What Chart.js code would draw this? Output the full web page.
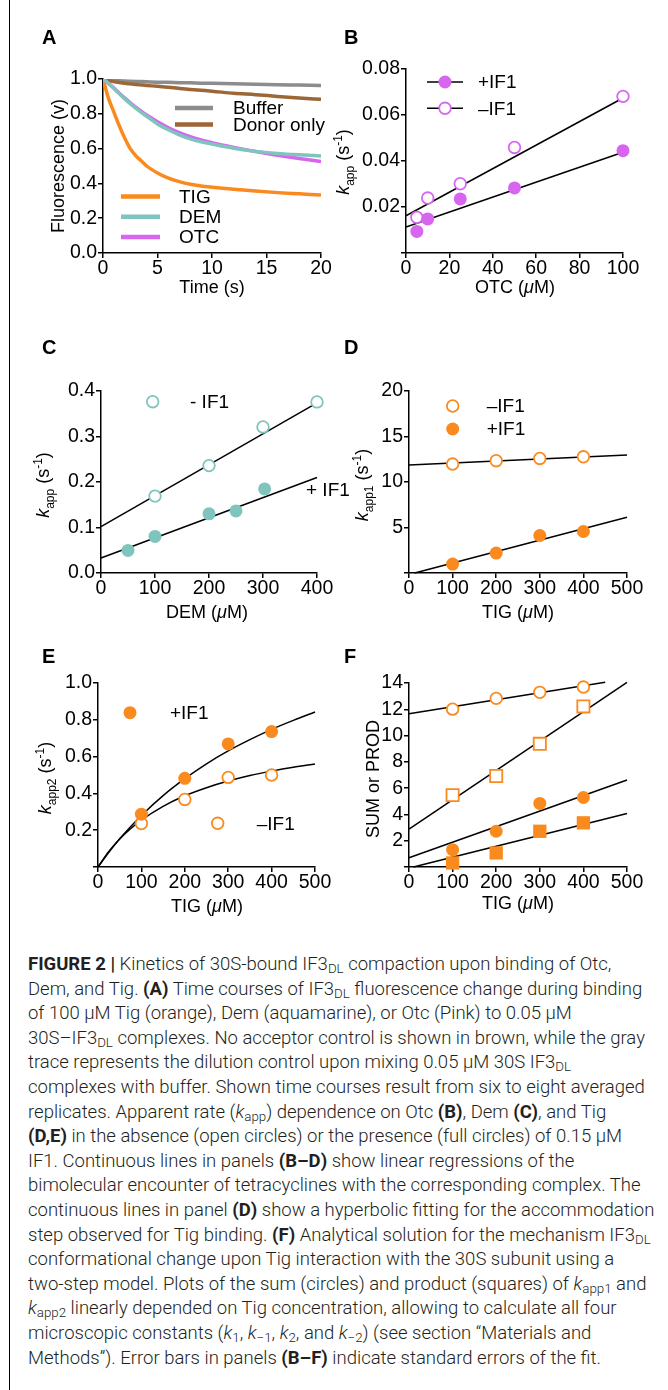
<!DOCTYPE html>
<html>
<head>
<meta charset="utf-8">
<script src="https://cdn.jsdelivr.net/npm/chart.js@4.4.1/dist/chart.umd.min.js"></script>
<style>
  body { margin: 0; background: #fff; width: 668px; height: 1390px; position: relative; overflow: hidden; }
  .pane { position: absolute; }
  #edge { position: absolute; left: 9px; top: 0; width: 1px; height: 1390px; background: #000; }
  #caption { position: absolute; left: 28px; top: 952px; font-family: Roboto, 'Liberation Sans', sans-serif; font-weight: 300;
             font-size: 18.5px; line-height: 24.6px; color: #231f20; white-space: nowrap; }
  #caption b { font-weight: 700; }
  #caption sub { font-size: 0.72em; vertical-align: -0.25em; line-height: 0; }
</style>
</head>
<body>
<div id="edge"></div>
<div class="pane" id="pA"><canvas id="cA"></canvas></div>
<div class="pane" id="pB"><canvas id="cB"></canvas></div>
<div class="pane" id="pC"><canvas id="cC"></canvas></div>
<div class="pane" id="pD"><canvas id="cD"></canvas></div>
<div class="pane" id="pE"><canvas id="cE"></canvas></div>
<div class="pane" id="pF"><canvas id="cF"></canvas></div>

<div id="caption">
<div><b>FIGURE 2 |</b> Kinetics of 30S-bound IF3<sub>DL</sub> compaction upon binding of Otc,</div>
<div>Dem, and Tig. <b>(A)</b> Time courses of IF3<sub>DL</sub> fluorescence change during binding</div>
<div>of 100 μM Tig (orange), Dem (aquamarine), or Otc (Pink) to 0.05 μM</div>
<div>30S–IF3<sub>DL</sub> complexes. No acceptor control is shown in brown, while the gray</div>
<div>trace represents the dilution control upon mixing 0.05 μM 30S IF3<sub>DL</sub></div>
<div>complexes with buffer. Shown time courses result from six to eight averaged</div>
<div>replicates. Apparent rate (<i>k</i><sub>app</sub>) dependence on Otc <b>(B)</b>, Dem <b>(C)</b>, and Tig</div>
<div><b>(D,E)</b> in the absence (open circles) or the presence (full circles) of 0.15 μM</div>
<div>IF1. Continuous lines in panels <b>(B–D)</b> show linear regressions of the</div>
<div>bimolecular encounter of tetracyclines with the corresponding complex. The</div>
<div>continuous lines in panel <b>(D)</b> show a hyperbolic fitting for the accommodation</div>
<div>step observed for Tig binding. <b>(F)</b> Analytical solution for the mechanism IF3<sub>DL</sub></div>
<div>conformational change upon Tig interaction with the 30S subunit using a</div>
<div>two-step model. Plots of the sum (circles) and product (squares) of <i>k</i><sub>app1</sub> and</div>
<div><i>k</i><sub>app2</sub> linearly depended on Tig concentration, allowing to calculate all four</div>
<div>microscopic constants (<i>k</i><sub>1</sub>, <i>k</i><sub>−1</sub>, <i>k</i><sub>2</sub>, and <i>k</i><sub>−2</sub>) (see section “Materials and</div>
<div>Methods”). Error bars in panels <b>(B–F)</b> indicate standard errors of the fit.</div>
</div>

<script>
// panel A - fluorescence time courses
const timeA      = [0, 0.5, 1, 1.5, 2, 2.5, 3, 3.5, 4, 5, 6, 7, 8, 9, 10, 12, 14, 16, 18, 20];
const fluoTig    = [1.00, 0.89, 0.81, 0.73, 0.66, 0.60, 0.56, 0.53, 0.50, 0.46, 0.43, 0.41, 0.395, 0.385, 0.378, 0.366, 0.356, 0.347, 0.340, 0.333];
const fluoDem    = [1.00, 0.975, 0.945, 0.915, 0.885, 0.858, 0.832, 0.808, 0.786, 0.742, 0.708, 0.679, 0.656, 0.639, 0.626, 0.602, 0.584, 0.572, 0.564, 0.558];
const fluoOtc    = [1.00, 0.975, 0.948, 0.918, 0.890, 0.863, 0.838, 0.815, 0.793, 0.754, 0.720, 0.692, 0.668, 0.650, 0.634, 0.607, 0.583, 0.562, 0.543, 0.526];
const fluoBuffer = [1.00, 0.995, 0.990, 0.990, 0.988, 0.987, 0.986, 0.985, 0.984, 0.982, 0.981, 0.979, 0.978, 0.976, 0.975, 0.972, 0.970, 0.967, 0.965, 0.963];
const fluoDonor  = [1.00, 0.990, 0.985, 0.980, 0.976, 0.972, 0.969, 0.966, 0.963, 0.958, 0.952, 0.946, 0.940, 0.935, 0.930, 0.918, 0.910, 0.900, 0.891, 0.883];

// panel B - kapp vs OTC
const otcConc        = [5, 10, 25, 50, 100];
const kappOtcPlus    = [0.0094, 0.0148, 0.0235, 0.0283, 0.0445];
const kappOtcMinus   = [0.0155, 0.0239, 0.0301, 0.0459, 0.0681];
const fitOtcX        = [0, 100];
const fitOtcPlus     = [0.0113, 0.0438];
const fitOtcMinus    = [0.0162, 0.0674];

// panel C - kapp vs DEM
const demConcMinus   = [100, 200, 300, 400];
const kappDemMinus   = [0.169, 0.236, 0.321, 0.376];
const demConcPlus    = [50, 100, 200, 250, 303];
const kappDemPlus    = [0.0496, 0.0803, 0.130, 0.1365, 0.1847];
const fitDemX        = [0, 400];
const fitDemMinus    = [0.102, 0.374];
const fitDemPlus     = [0.033, 0.210];

// panel D - kapp1 vs TIG
const tigConc        = [100, 200, 300, 400];
const kapp1Minus     = [11.97, 12.34, 12.59, 12.77];
const kapp1Plus      = [0.985, 2.19, 4.12, 4.56];
const fitK1MinusX    = [0, 500];
const fitK1Minus     = [11.86, 12.96];
const fitK1PlusX     = [13, 500];
const fitK1Plus      = [0, 6.13];

// panel E - kapp2 vs TIG (hyperbolic fits)
const kapp2Plus      = [0.287, 0.482, 0.669, 0.736];
const kapp2Minus     = [0.236, 0.367, 0.487, 0.500];
const fitK2X         = [0, 25, 50, 75, 100, 150, 200, 250, 300, 350, 400, 450, 500];
const fitK2Plus      = [0, 0.080, 0.153, 0.219, 0.280, 0.388, 0.480, 0.561, 0.631, 0.692, 0.748, 0.797, 0.842];
const fitK2Minus     = [0, 0.084, 0.152, 0.208, 0.255, 0.330, 0.387, 0.431, 0.467, 0.497, 0.521, 0.542, 0.560];

// panel F - sum and product of kapp1, kapp2
const sumMinus       = [12.01, 12.83, 13.29, 13.69];
const prodMinus      = [5.47, 6.92, 9.37, 12.22];
const sumPlus        = [1.32, 2.72, 4.84, 5.29];
const prodPlus       = [0.31, 1.07, 2.72, 3.36];
const fitSumMinusX   = [0, 450];
const fitSumMinus    = [11.66, 14.05];
const fitProdMinusX  = [0, 500];
const fitProdMinus   = [2.88, 14.05];
const fitSumPlusX    = [0, 500];
const fitSumPlus     = [0.71, 6.62];
const fitProdPlusX   = [10, 500];
const fitProdPlus    = [0, 4.07];

const FONT = "'Liberation Sans', Arial, sans-serif";
const ORANGE = '#fb8a1e', TEAL = '#7fc4bd', PINK = '#d865f0';
const PAD = { l: 85, t: 60, r: 34, b: 58 };
const TICK_SIZE = 19.5, TITLE_SIZE = 18, LEGEND_SIZE = 19;

const pts = (xs, ys) => xs.map((x, i) => ({ x: x, y: ys[i] }));

function marker(xs, ys, color, open, style) {
  const sq = style === 'rect';
  return {
    data: pts(xs, ys), showLine: false, order: 0, clip: false,
    pointStyle: style || 'circle',
    pointRadius: sq ? (open ? 8.6 : 9.4) : (open ? 5.8 : 6.5),
    pointBackgroundColor: open ? '#fff' : color,
    pointBorderColor: color,
    pointBorderWidth: open ? 1.8 : 0
  };
}

function fit(xs, ys, curved) {
  return {
    data: pts(xs, ys), showLine: true, pointRadius: 0, order: 1, clip: false,
    borderColor: '#000', borderWidth: 1.5,
    cubicInterpolationMode: curved ? 'monotone' : 'default'
  };
}

function trace(ys, color, order) {
  return {
    data: pts(timeA, ys), showLine: true, pointRadius: 0, order: order,
    borderColor: color, borderWidth: 3.5, cubicInterpolationMode: 'monotone'
  };
}

function axis(min, max, step, fmt, isY) {
  return {
    type: 'linear', position: isY ? 'left' : 'bottom', min: min, max: max,
    ticks: { stepSize: step, color: '#000', font: { family: FONT, size: TICK_SIZE }, padding: isY ? 1 : -1,
             maxRotation: 0, autoSkip: false, callback: fmt },
    grid: { display: true, drawOnChartArea: false, drawTicks: true, tickLength: 5, lineWidth: 1.5, color: '#000' },
    border: { display: true, color: '#000', width: 1.5 },
    afterFit: function (s) {
      if (isY) { s.width = PAD.l; s.paddingTop = 0; s.paddingBottom = 0; }
      else { s.height = PAD.b; s.paddingLeft = 0; s.paddingRight = 0; }
    }
  };
}

// text with italic / subscript / superscript pieces, centred on (x, y)
function drawRich(ctx, parts, x, y, size, vertical) {
  const small = Math.round(size * 0.68);
  const norm = parts.map(p => typeof p === 'string' ? [p, ''] : p);
  const fontOf = k => (k === 'i' ? 'italic ' : '') + ((k === 'sub' || k === 'sup') ? small : size) + 'px ' + FONT;
  let w = 0;
  norm.forEach(([t, k]) => { ctx.font = fontOf(k); w += ctx.measureText(t).width; });
  ctx.save();
  ctx.translate(x, y);
  if (vertical) ctx.rotate(-Math.PI / 2);
  ctx.textAlign = 'left';
  ctx.textBaseline = 'alphabetic';
  let cx = -w / 2;
  const base = size * 0.36;
  norm.forEach(([t, k]) => {
    ctx.font = fontOf(k);
    const dy = k === 'sub' ? size * 0.27 : k === 'sup' ? -size * 0.42 : 0;
    ctx.fillText(t, cx, base + dy);
    cx += ctx.measureText(t).width;
  });
  ctx.restore();
}

const extras = {
  id: 'extras',
  afterDraw(chart, args, o) {
    const ctx = chart.ctx, ox = o.origin[0], oy = o.origin[1];
    ctx.save();
    ctx.fillStyle = '#000';
    ctx.font = 'bold 20px ' + FONT;
    ctx.textAlign = 'left';
    ctx.textBaseline = 'middle';
    ctx.fillText(o.letter[0], o.letter[1] - ox, o.letter[2] - oy);
    drawRich(ctx, o.xTitle[0], o.xTitle[1] - ox, o.xTitle[2] - oy, TITLE_SIZE, false);
    drawRich(ctx, o.yTitle[0], o.yTitle[1] - ox, o.yTitle[2] - oy, TITLE_SIZE, true);
    (o.legend || []).forEach(it => {
      const y = it.y - oy;
      if (it.line) {
        ctx.strokeStyle = it.lineColor || '#000';
        ctx.lineWidth = it.lineWidth || 1.5;
        ctx.beginPath();
        ctx.moveTo(it.line[0] - ox, y);
        ctx.lineTo(it.line[1] - ox, y);
        ctx.stroke();
      }
      if (it.dot) {
        const [mx, color, open] = it.dot;
        ctx.beginPath();
        ctx.arc(mx - ox, y, open ? 5.8 : 6.5, 0, Math.PI * 2);
        ctx.fillStyle = open ? '#fff' : color;
        ctx.fill();
        if (open) { ctx.strokeStyle = color; ctx.lineWidth = 1.8; ctx.stroke(); }
      }
      ctx.fillStyle = '#000';
      ctx.font = LEGEND_SIZE + 'px ' + FONT;
      ctx.textBaseline = 'middle';
      ctx.fillText(it.text, it.tx - ox, y + 1);
    });
    ctx.restore();
  }
};

function makePanel(id, area, datasets, xAxis, yAxis, deco) {
  const [x0, y0, x1, y1] = area;
  const left = x0 - PAD.l, top = y0 - PAD.t;
  const w = (x1 - x0) + PAD.l + PAD.r, h = (y1 - y0) + PAD.t + PAD.b;
  const pane = document.getElementById('p' + id);
  pane.style.left = left + 'px';
  pane.style.top = top + 'px';
  const cv = document.getElementById('c' + id);
  cv.width = w; cv.height = h;
  cv.style.width = w + 'px'; cv.style.height = h + 'px';
  deco.origin = [left, top];
  new Chart(cv, {
    type: 'scatter',
    data: { datasets: datasets },
    options: {
      responsive: false, animation: false, devicePixelRatio: 1,
      layout: { padding: { left: 0, top: PAD.t, right: PAD.r, bottom: 0 } },
      scales: { x: xAxis, y: yAxis },
      plugins: { legend: { display: false }, tooltip: { enabled: false }, extras: deco }
    },
    plugins: [extras]
  });
}

const noZero = f => v => (Math.abs(v) < 1e-9 ? '' : f(v));
const MU = ['(', ['μ', 'i'], 'M)'];
const KAPP = sub => [['k', 'i'], [sub, 'sub'], ' (s', ['-1', 'sup'], ')'];

// A
makePanel('A', [103, 79, 321, 253], [
  trace(fluoDem, TEAL, 0),
  trace(fluoOtc, PINK, 1),
  trace(fluoTig, ORANGE, 2),
  trace(fluoDonor, '#9c6636', 3),
  trace(fluoBuffer, '#8c8c8c', 4)
], axis(0, 20, 5, v => v, false), axis(0, 1, 0.2, v => v.toFixed(1), true), {
  letter: ['A', 42, 38],
  xTitle: [['Time (s)'], 212, 287],
  yTitle: [['Fluorescence (v)'], 58, 166],
  legend: [
    { y: 108, line: [175, 213], lineColor: '#8c8c8c', lineWidth: 4.5, text: 'Buffer', tx: 233 },
    { y: 124.5, line: [175, 213], lineColor: '#9c6636', lineWidth: 4.5, text: 'Donor only', tx: 233 },
    { y: 196.5, line: [121, 160], lineColor: ORANGE, lineWidth: 4.5, text: 'TIG', tx: 179 },
    { y: 216.7, line: [121, 160], lineColor: TEAL, lineWidth: 4.5, text: 'DEM', tx: 179 },
    { y: 237, line: [121, 160], lineColor: PINK, lineWidth: 4.5, text: 'OTC', tx: 179 }
  ]
});

// B
makePanel('B', [406, 69, 623, 253], [
  marker(otcConc, kappOtcPlus, PINK, false),
  marker(otcConc, kappOtcMinus, PINK, true),
  fit(fitOtcX, fitOtcPlus),
  fit(fitOtcX, fitOtcMinus)
], axis(0, 100, 20, v => v, false), axis(0, 0.08, 0.02, noZero(v => v.toFixed(2)), true), {
  letter: ['B', 344, 38],
  xTitle: [['OTC '].concat(MU), 515, 287],
  yTitle: [KAPP('app'), 343, 162],
  legend: [
    { y: 82, line: [427, 463], dot: [445, PINK, false], text: '+IF1', tx: 478 },
    { y: 108.3, line: [427, 463], dot: [445, PINK, true], text: '–IF1', tx: 478 }
  ]
});

// C
makePanel('C', [101, 391, 317, 573], [
  marker(demConcMinus, kappDemMinus, TEAL, true),
  marker(demConcPlus, kappDemPlus, TEAL, false),
  fit(fitDemX, fitDemMinus),
  fit(fitDemX, fitDemPlus)
], axis(0, 400, 100, v => v, false), axis(0, 0.4, 0.1, v => v.toFixed(1), true), {
  letter: ['C', 42, 348],
  xTitle: [['DEM '].concat(MU), 207, 612],
  yTitle: [KAPP('app'), 43, 485],
  legend: [
    { y: 401.7, dot: [152.7, TEAL, true], text: '- IF1', tx: 190 },
    { y: 490, text: '+ IF1', tx: 306 }
  ]
});

// D
makePanel('D', [409, 391, 627, 573], [
  marker(tigConc, kapp1Minus, ORANGE, true),
  marker(tigConc, kapp1Plus, ORANGE, false),
  fit(fitK1MinusX, fitK1Minus),
  fit(fitK1PlusX, fitK1Plus)
], axis(0, 500, 100, v => v, false), axis(0, 20, 5, noZero(v => v), true), {
  letter: ['D', 344, 348],
  xTitle: [['TIG '].concat(MU), 518, 612],
  yTitle: [KAPP('app1'), 362, 485],
  legend: [
    { y: 406, dot: [452.7, ORANGE, true], text: '–IF1', tx: 486.7 },
    { y: 429, dot: [452.7, ORANGE, false], text: '+IF1', tx: 486.7 }
  ]
});

// E
makePanel('E', [98, 683, 315, 867], [
  marker(tigConc, kapp2Plus, ORANGE, false),
  marker(tigConc, kapp2Minus, ORANGE, true),
  fit(fitK2X, fitK2Plus, true),
  fit(fitK2X, fitK2Minus, true)
], axis(0, 500, 100, v => v, false), axis(0, 1, 0.2, noZero(v => v.toFixed(1)), true), {
  letter: ['E', 42, 657.5],
  xTitle: [['TIG '].concat(MU), 207, 906],
  yTitle: [KAPP('app2'), 45, 778],
  legend: [
    { y: 712.7, dot: [130, ORANGE, false], text: '+IF1', tx: 170 },
    { y: 823.3, dot: [217.7, ORANGE, true], text: '–IF1', tx: 256.7 }
  ]
});

// F
makePanel('F', [409, 683, 627, 867], [
  marker(tigConc, sumMinus, ORANGE, true),
  marker(tigConc, prodMinus, ORANGE, true, 'rect'),
  marker(tigConc, sumPlus, ORANGE, false),
  marker(tigConc, prodPlus, ORANGE, false, 'rect'),
  fit(fitSumMinusX, fitSumMinus),
  fit(fitProdMinusX, fitProdMinus),
  fit(fitSumPlusX, fitSumPlus),
  fit(fitProdPlusX, fitProdPlus)
], axis(0, 500, 100, v => v, false), axis(0, 14, 2, noZero(v => v), true), {
  letter: ['F', 344, 657.5],
  xTitle: [['TIG '].concat(MU), 518, 903],
  yTitle: [['SUM or PROD'], 373, 779]
});
</script>
</body>
</html>
